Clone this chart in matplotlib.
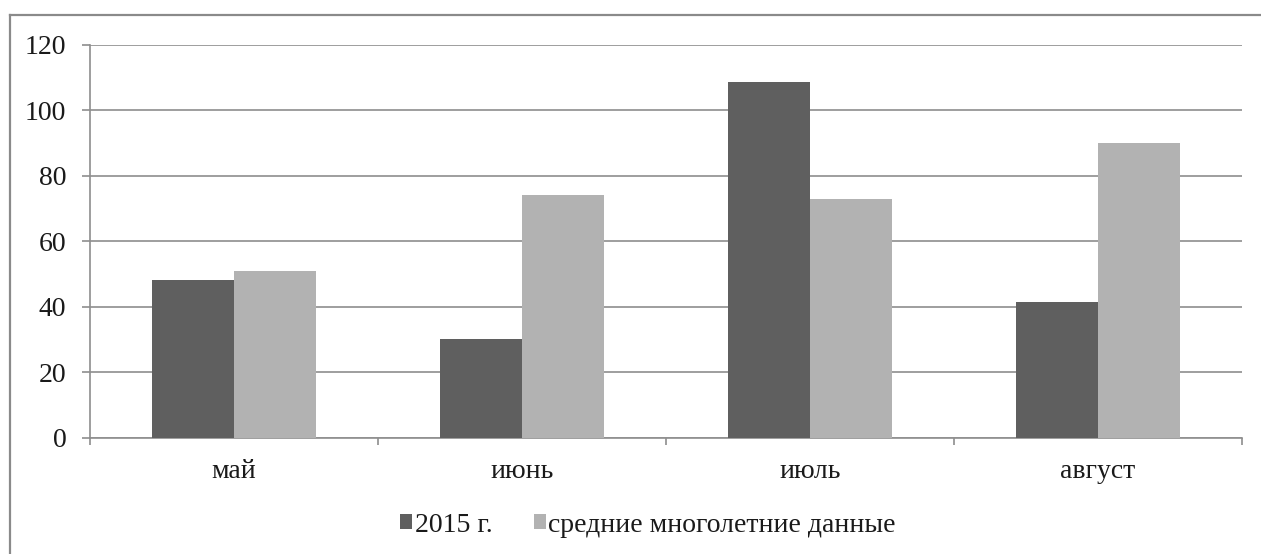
import matplotlib
matplotlib.use("Agg")
import matplotlib.pyplot as plt
from matplotlib import font_manager as fm
from matplotlib.lines import Line2D
import numpy as np

# Monthly values
months = ["май", "июнь", "июль", "август"]
year_2015 = [48, 30, 108.5, 41.5]
long_term_avg = [51, 74, 73, 90]
series_labels = ["2015 г.", "средние многолетние данные"]
y_ticks = [0, 20, 40, 60, 80, 100, 120]

# locate a Times-like serif face
serif_name = "DejaVu Serif"
for path in fm.findSystemFonts():
    base = path.replace("\\", "/").split("/")[-1].lower()
    if base.startswith("liberationserif-regular"):
        fm.fontManager.addfont(path)
        serif_name = fm.FontProperties(fname=path).get_name()
        break
plt.rcParams["font.family"] = [serif_name, "DejaVu Serif"]

W, H = 1261, 554
fig = plt.figure(figsize=(W / 100, H / 100), dpi=100)
fig.patch.set_facecolor("white")

left, right = 90 / W, 1242 / W
bottom, top = 1 - 437.7 / H, 1 - 44.5 / H
ax = fig.add_axes([left, bottom, right - left, top - bottom])

x = np.arange(len(months))
bw = 1 / 3.5
dark = "#5f5f5f"
light = "#b2b2b2"
grid_c = "#8e8e8e"
text_c = "#1a1a1a"
fs = 20

ax.bar(x - bw / 2, year_2015, width=bw, color=dark, label=series_labels[0], zorder=3)
ax.bar(x + bw / 2, long_term_avg, width=bw, color=light, label=series_labels[1], zorder=3)

ax.set_xlim(-0.5, len(months) - 0.5)
ax.set_ylim(0, 120)
ax.set_yticks(y_ticks)
ax.set_yticklabels([str(v) for v in y_ticks])
ax.yaxis.grid(True, color=grid_c, linewidth=1.2, zorder=0)

for s in ["top", "right"]:
    ax.spines[s].set_visible(False)
for s in ["left", "bottom"]:
    ax.spines[s].set_color(grid_c)
    ax.spines[s].set_linewidth(1.2)

# category labels sit between boundary ticks
ax.set_xticks(np.arange(len(months) + 1) - 0.5)
ax.set_xticklabels([])
ax.set_xticks(x, minor=True)
ax.set_xticklabels(months, minor=True)
ax.tick_params(axis="x", which="major", length=5, width=1.2, color=grid_c, direction="out")
ax.tick_params(axis="x", which="minor", length=0, pad=15, labelsize=fs, labelcolor=text_c)
ax.tick_params(axis="y", length=6, width=1.2, color=grid_c, pad=11, labelsize=fs, labelcolor=text_c)

leg = fig.legend(loc="center", bbox_to_anchor=(648 / W, 1 - 525 / H), ncol=2,
                 frameon=False, fontsize=fs, handlelength=0.42, handleheight=0.42,
                 handletextpad=0.1, columnspacing=1.5, borderaxespad=0, borderpad=0)
for t in leg.get_texts():
    t.set_color(text_c)

# outer frame (left and top edges)
fig.add_artist(Line2D([9.5 / W, 9.5 / W], [0, 1 - 15 / H], color="#8a8a8a", linewidth=1.6,
                      transform=fig.transFigure))
fig.add_artist(Line2D([9.5 / W, 1], [1 - 15 / H, 1 - 15 / H], color="#8a8a8a", linewidth=1.6,
                      transform=fig.transFigure))

fig.savefig("out.png", dpi=100, facecolor="white")
